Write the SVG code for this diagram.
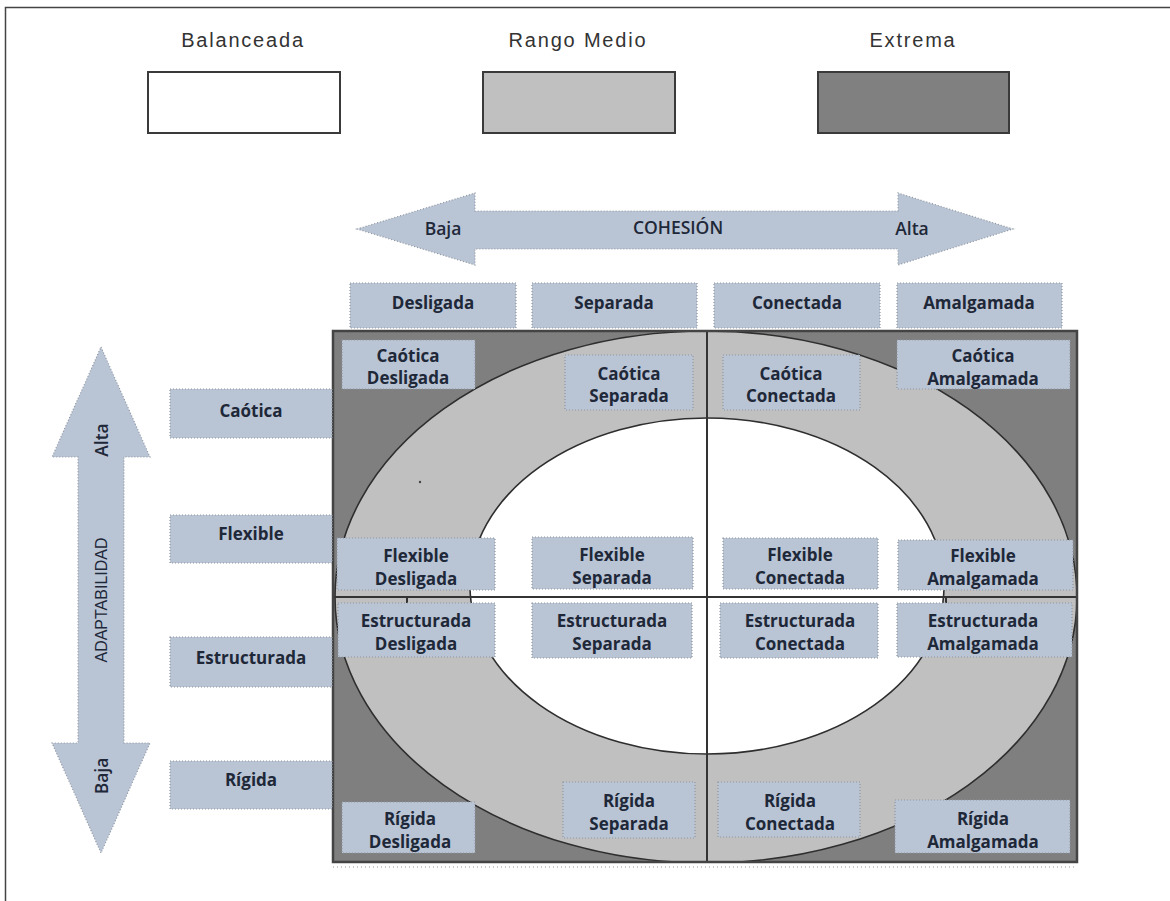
<svg xmlns="http://www.w3.org/2000/svg" width="1170" height="901" viewBox="0 0 1170 901">
  <defs>
    <clipPath id="gridClip">
      <rect x="333" y="331" width="744" height="531"/>
    </clipPath>
    <style>
      .legend-label { font-family: "Liberation Sans", Arial, sans-serif; font-size: 20px; fill: #333; letter-spacing: 1.8px; text-anchor: middle; }
      .legend-box { stroke: #3a3a3a; stroke-width: 2; }
      .tag { fill: #b9c4d5; stroke: #8f969f; stroke-width: 1.2; stroke-dasharray: 1 2; }
      .tag-text { font-family: "Open Sans", "Liberation Sans", sans-serif; font-weight: 700; font-size: 17px; fill: #1e2838; text-anchor: middle; dominant-baseline: central; }
      .axis { fill: #b9c4d5; stroke: #8f969f; stroke-width: 1.2; stroke-dasharray: 1 2; }
      .axis-text { font-family: "Open Sans", "Liberation Sans", sans-serif; font-weight: 600; font-size: 17.5px; fill: #1e2838; text-anchor: middle; dominant-baseline: central; }
      .axis-title { font-family: "Liberation Sans", Arial, sans-serif; font-size: 16px; fill: #1e2838; text-anchor: middle; dominant-baseline: central; }
      .divider { stroke: #333; stroke-width: 2; }
    </style>
  </defs>

  <rect x="0" y="0" width="1170" height="901" fill="#ffffff"/>
  <!-- outer page frame (top and left edges visible) -->
  <rect x="5.5" y="7.5" width="1300" height="1000" fill="none" stroke="#444" stroke-width="1.5"/>

  <!-- legend -->
  <g id="legend-balanceada">
    <text class="legend-label" x="243" y="47">Balanceada</text>
    <rect class="legend-box" x="148" y="72" width="192" height="61" fill="#ffffff"/>
  </g>
  <g id="legend-rango-medio">
    <text class="legend-label" x="578" y="47">Rango Medio</text>
    <rect class="legend-box" x="483" y="72" width="192" height="61" fill="#c0c0c0"/>
  </g>
  <g id="legend-extrema">
    <text class="legend-label" x="913" y="47">Extrema</text>
    <rect class="legend-box" x="818" y="72" width="191" height="61" fill="#808080"/>
  </g>

  <!-- circumplex field -->
  <g id="field">
    <rect x="333" y="331" width="744" height="531" fill="#7f7f7f"/>
    <g clip-path="url(#gridClip)">
      <ellipse cx="706" cy="597" rx="371" ry="266" fill="#c0c0c0" stroke="#2e2e2e" stroke-width="1.6"/>
      <ellipse cx="707" cy="586" rx="237" ry="168" fill="#ffffff" stroke="#2e2e2e" stroke-width="1.6"/>
      <circle cx="420" cy="482" r="1.2" fill="#444"/>
    </g>
  </g>

  <!-- axes and quadrant dividers -->
  <g id="connectors">
    <line class="divider" x1="707" y1="331" x2="707" y2="862"/>
    <line class="divider" x1="333" y1="597" x2="1077" y2="597"/>
    <line class="divider" x1="407" y1="597" x2="407" y2="605" stroke-width="1.5"/>
    <line class="divider" x1="946" y1="597" x2="946" y2="605" stroke-width="1.5"/>

    <g id="axis-cohesion">
      <polygon class="axis" points="357,229 475,193 475,211 898,211 898,193 1013,229 898,265 898,249 475,249 475,265"/>
      <text class="axis-text" x="443" y="228">Baja</text>
      <text class="axis-text" x="678" y="227">COHESIÓN</text>
      <text class="axis-text" x="912" y="228">Alta</text>
    </g>

    <g id="axis-adaptabilidad">
      <polygon class="axis" points="101,347 150,457 124,457 124,743 150,743 101,853 52,743 78,743 78,457 52,457"/>
      <text class="axis-text" transform="translate(101,440) rotate(-90)">Alta</text>
      <text class="axis-title" transform="translate(101,600) rotate(-90)">ADAPTABILIDAD</text>
      <text class="axis-text" transform="translate(101,776) rotate(-90)">Baja</text>
    </g>
  </g>

  <!-- grid outline -->
  <rect x="333" y="331" width="744" height="531" fill="none" stroke="#444" stroke-width="2.5"/>
  <line x1="333" y1="867" x2="1077" y2="867" stroke="#999" stroke-width="1" stroke-dasharray="1 3"/>

  <!-- cohesion levels -->
  <g id="col-desligada"><rect class="tag" x="350" y="283" width="166" height="45"/><text class="tag-text" x="433" y="302">Desligada</text></g>
  <g id="col-separada"><rect class="tag" x="532" y="283" width="165" height="45"/><text class="tag-text" x="614" y="302">Separada</text></g>
  <g id="col-conectada"><rect class="tag" x="714" y="283" width="166" height="45"/><text class="tag-text" x="797" y="302">Conectada</text></g>
  <g id="col-amalgamada"><rect class="tag" x="897" y="283" width="165" height="45"/><text class="tag-text" x="979" y="302">Amalgamada</text></g>

  <!-- adaptability levels -->
  <g id="row-caotica"><rect class="tag" x="170" y="389" width="162" height="49"/><text class="tag-text" x="251" y="410">Caótica</text></g>
  <g id="row-flexible"><rect class="tag" x="170" y="515" width="162" height="48"/><text class="tag-text" x="251" y="533">Flexible</text></g>
  <g id="row-estructurada"><rect class="tag" x="170" y="637" width="162" height="50"/><text class="tag-text" x="251" y="657">Estructurada</text></g>
  <g id="row-rigida"><rect class="tag" x="170" y="761" width="162" height="48"/><text class="tag-text" x="251" y="779">Rígida</text></g>

  <!-- family types -->
  <g id="caotica-desligada"><rect class="tag" x="342" y="340" width="133" height="49"/><text class="tag-text" x="408" y="355">Caótica</text><text class="tag-text" x="408" y="377">Desligada</text></g>
  <g id="caotica-separada"><rect class="tag" x="565" y="355" width="128" height="55"/><text class="tag-text" x="629" y="373">Caótica</text><text class="tag-text" x="629" y="395">Separada</text></g>
  <g id="caotica-conectada"><rect class="tag" x="723" y="355" width="137" height="55"/><text class="tag-text" x="791" y="373">Caótica</text><text class="tag-text" x="791" y="395">Conectada</text></g>
  <g id="caotica-amalgamada"><rect class="tag" x="897" y="340" width="173" height="49"/><text class="tag-text" x="983" y="355">Caótica</text><text class="tag-text" x="983" y="378">Amalgamada</text></g>

  <g id="flexible-desligada"><rect class="tag" x="337" y="538" width="158" height="52"/><text class="tag-text" x="416" y="555">Flexible</text><text class="tag-text" x="416" y="578">Desligada</text></g>
  <g id="flexible-separada"><rect class="tag" x="532" y="537" width="161" height="52"/><text class="tag-text" x="612" y="554">Flexible</text><text class="tag-text" x="612" y="577">Separada</text></g>
  <g id="flexible-conectada"><rect class="tag" x="723" y="538" width="155" height="51"/><text class="tag-text" x="800" y="554">Flexible</text><text class="tag-text" x="800" y="577">Conectada</text></g>
  <g id="flexible-amalgamada"><rect class="tag" x="898" y="540" width="175" height="50"/><text class="tag-text" x="983" y="555">Flexible</text><text class="tag-text" x="983" y="578">Amalgamada</text></g>

  <g id="estructurada-desligada"><rect class="tag" x="338" y="603" width="157" height="54"/><text class="tag-text" x="416" y="620">Estructurada</text><text class="tag-text" x="416" y="643">Desligada</text></g>
  <g id="estructurada-separada"><rect class="tag" x="532" y="603" width="160" height="55"/><text class="tag-text" x="612" y="620">Estructurada</text><text class="tag-text" x="612" y="643">Separada</text></g>
  <g id="estructurada-conectada"><rect class="tag" x="720" y="603" width="158" height="55"/><text class="tag-text" x="800" y="620">Estructurada</text><text class="tag-text" x="800" y="643">Conectada</text></g>
  <g id="estructurada-amalgamada"><rect class="tag" x="897" y="603" width="175" height="54"/><text class="tag-text" x="983" y="620">Estructurada</text><text class="tag-text" x="983" y="643">Amalgamada</text></g>

  <g id="rigida-desligada"><rect class="tag" x="342" y="802" width="133" height="51"/><text class="tag-text" x="410" y="818">Rígida</text><text class="tag-text" x="410" y="841">Desligada</text></g>
  <g id="rigida-separada"><rect class="tag" x="563" y="782" width="132" height="56"/><text class="tag-text" x="629" y="800">Rígida</text><text class="tag-text" x="629" y="823">Separada</text></g>
  <g id="rigida-conectada"><rect class="tag" x="718" y="782" width="142" height="55"/><text class="tag-text" x="790" y="800">Rígida</text><text class="tag-text" x="790" y="823">Conectada</text></g>
  <g id="rigida-amalgamada"><rect class="tag" x="895" y="800" width="175" height="53"/><text class="tag-text" x="983" y="818">Rígida</text><text class="tag-text" x="983" y="841">Amalgamada</text></g>
</svg>
